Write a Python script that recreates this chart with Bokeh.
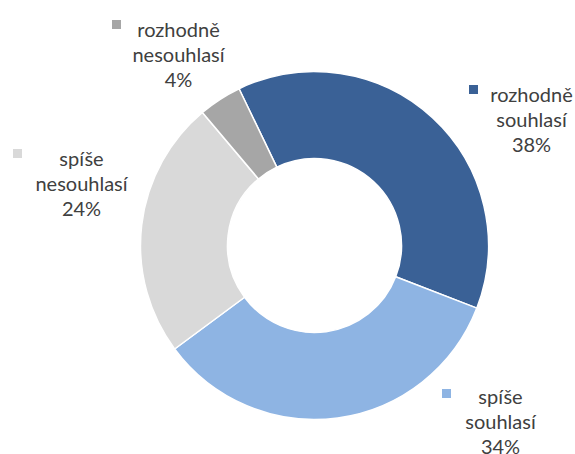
import numpy as np
from bokeh.plotting import figure
from bokeh.models import Range1d, ColumnDataSource
from bokeh.core.properties import value
from bokeh.embed import file_html
from bokeh.resources import INLINE

# ---- data ----
categories = ["rozhodně souhlasí", "spíše souhlasí", "spíše nesouhlasí", "rozhodně nesouhlasí"]
values = [38, 34, 24, 4]

# ---- style ----
colors = ["#3A6196", "#8EB4E3", "#D9D9D9", "#A6A6A6"]
text_color = "#404040"
font = "Lato"
font_size = "20px"

# layout (reference pixel coordinates, y measured downward)
cx_ref, cy_ref = 314, 245
r_out, r_in = 174, 87
first_angle = -25.7  # degrees, clockwise from 12 o'clock
line_gap = 25
# per category: text centre x, first baseline y, key x, key y (centre)
label_pos = [
    (531, 93, 473, 89),
    (500, 395, 446, 393),
    (81, 157, 17, 153),
    (178, 28, 116, 24),
]

W, H = 575, 454
def Y(yref):
    return H - yref

p = figure(width=W, height=H, x_range=Range1d(0, W), y_range=Range1d(0, H),
           output_backend="svg", toolbar_location=None, min_border=0,
           x_axis_location=None, y_axis_location=None)
p.grid.visible = False
p.outline_line_color = None
p.background_fill_color = "white"
p.border_fill_color = "white"

total = float(sum(values))
cum = np.concatenate([[0], np.cumsum(values)])
a0 = first_angle + 360 * cum[:-1] / total
a1 = first_angle + 360 * cum[1:] / total
src = ColumnDataSource(dict(
    start=90 - a1, end=90 - a0, color=colors, cat=categories, val=values,
))
p.annular_wedge(x=cx_ref, y=Y(cy_ref), inner_radius=r_in, outer_radius=r_out,
                start_angle="start", end_angle="end", start_angle_units="deg",
                end_angle_units="deg", direction="anticlock",
                fill_color="color", line_color="white", line_width=1.5, source=src)

# labels
tx, ty, tt = [], [], []
kx, ky, kc = [], [], []
for cat, v, col, (lx, ly, kxx, kyy) in zip(categories, values, colors, label_pos):
    lines = cat.split(" ") + [f"{v}%"]
    for i, ln in enumerate(lines):
        tx.append(lx)
        ty.append(Y(ly + i * line_gap))
        tt.append(ln)
    kx.append(kxx)
    ky.append(Y(kyy))
    kc.append(col)

p.text(x=tx, y=ty, text=tt, text_align="center", text_baseline="alphabetic",
       text_font=value(font), text_font_size=font_size, text_color=text_color)
p.rect(x=kx, y=ky, width=9, height=9, fill_color=kc, line_color=None)

open("out.html", "w").write(file_html(p, INLINE))
